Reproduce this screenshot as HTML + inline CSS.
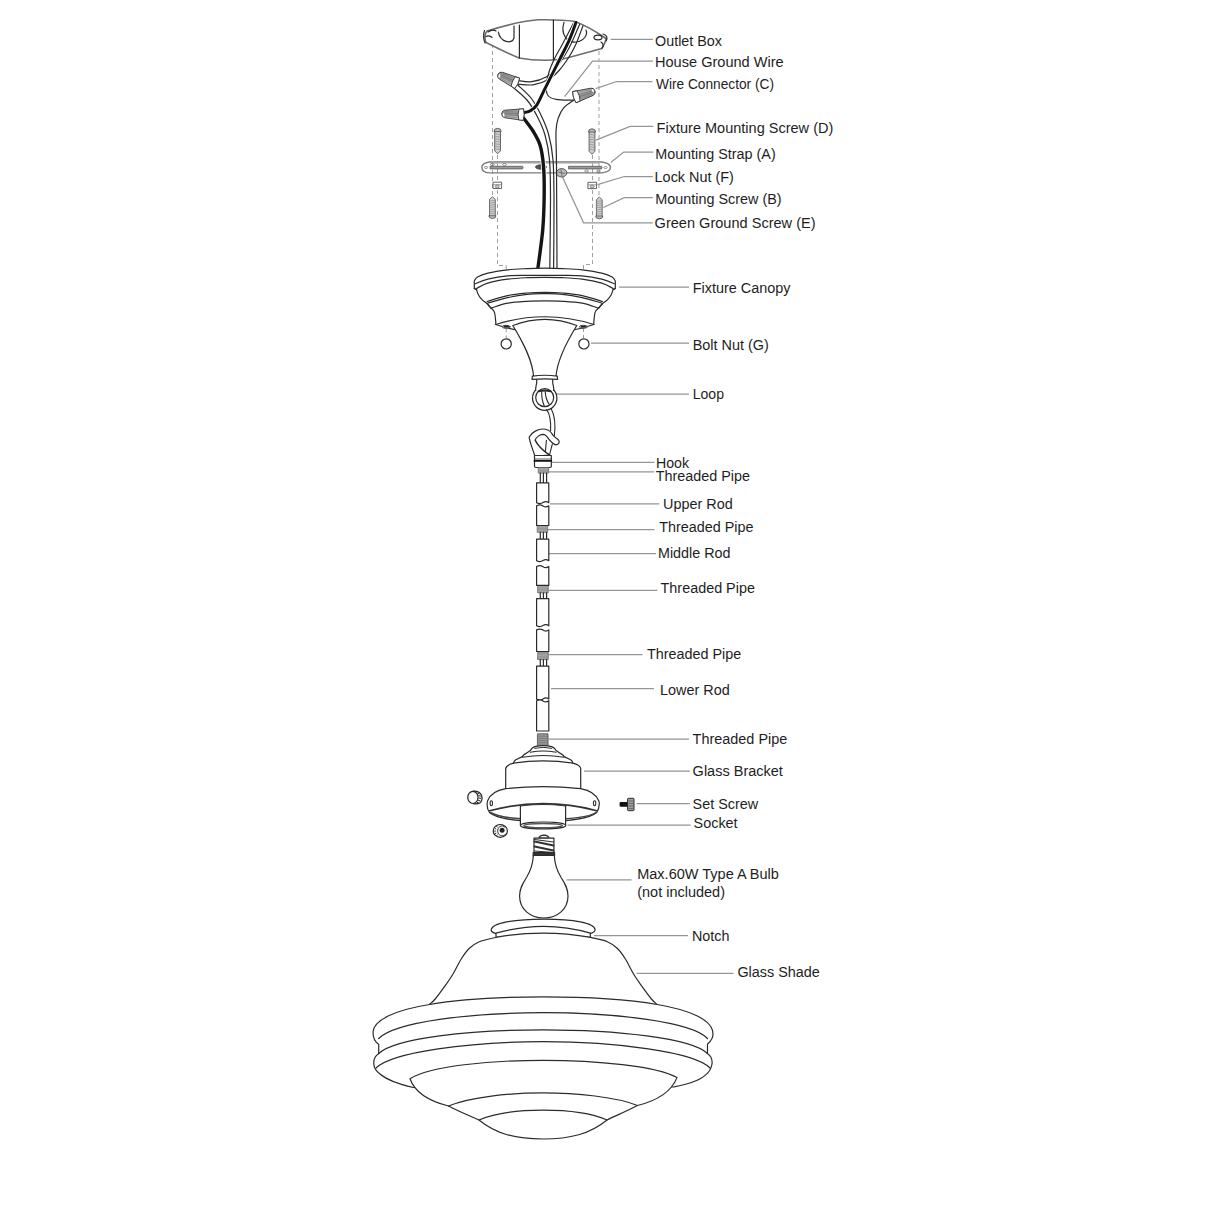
<!DOCTYPE html>
<html><head><meta charset="utf-8">
<style>
html,body{margin:0;padding:0;background:#fff;}
svg{display:block;}
text{font-family:"Liberation Sans",sans-serif;font-size:15.5px;fill:#1e1e1e;}
.ld{stroke:#90969c;stroke-width:1.25;fill:none;}
.k{stroke:#2b2b2b;stroke-width:1.2;fill:none;stroke-linejoin:round;stroke-linecap:round;}
.kf{stroke:#2b2b2b;stroke-width:1.2;fill:#fff;stroke-linejoin:round;}
.ds{stroke:#a0a0a0;stroke-width:1;fill:none;stroke-dasharray:4 3;}
</style></head>
<body>
<svg width="1214" height="1214" viewBox="0 0 1214 1214">
<rect width="1214" height="1214" fill="#fff"/>
<!-- LEADER LINES -->
<g class="ld">
<path d="M610.7 39.4H653"/>
<path d="M564.6 96.7L592.5 61.2H653"/>
<path d="M595.7 88.7L616.6 81.5H652.4"/>
<path d="M596 140.2L630.1 126.4H653.3"/>
<path d="M610.8 162.5L623.7 152.1H653.3"/>
<path d="M597.5 184.7L624.2 176.5H652.8"/>
<path d="M603.4 207.5L624.2 197.6H652.8"/>
<path d="M561.9 175.8L583.6 222.8H652.8"/>
<path d="M619 287.1H689"/>
<path d="M591 343.1H689"/>
<path d="M556 394.2H689"/>
<path d="M552 462.4H654.4"/>
<path d="M549 471.9H654"/>
<path d="M550 503.9H659.3"/>
<path d="M548 529.6H654.4"/>
<path d="M549 553.5H656"/>
<path d="M549 590.3H657.3"/>
<path d="M548 654.5H642.5"/>
<path d="M551 688.6H654"/>
<path d="M549 739H689"/>
<path d="M584 771.1H689.8"/>
<path d="M636.6 803.5H689.8"/>
<path d="M567.5 825H690.6"/>
<path d="M566.6 879.8H631.6"/>
<path d="M594 935.7H688"/>
<path d="M636.6 973.3H733.5"/>
</g>
<!-- LABELS -->
<g>
<text x="655" y="46.4" textLength="67" lengthAdjust="spacingAndGlyphs">Outlet Box</text>
<text x="655" y="66.6" textLength="128.7" lengthAdjust="spacingAndGlyphs">House Ground Wire</text>
<text x="656" y="88.7" textLength="118" lengthAdjust="spacingAndGlyphs">Wire Connector (C)</text>
<text x="656.6" y="133.1" textLength="176.7" lengthAdjust="spacingAndGlyphs">Fixture Mounting Screw (D)</text>
<text x="655.2" y="159.4" textLength="120.5" lengthAdjust="spacingAndGlyphs">Mounting Strap (A)</text>
<text x="654.6" y="182.1" textLength="79.3" lengthAdjust="spacingAndGlyphs">Lock Nut (F)</text>
<text x="655.2" y="204.3" textLength="126.4" lengthAdjust="spacingAndGlyphs">Mounting Screw (B)</text>
<text x="654.6" y="227.8" textLength="161" lengthAdjust="spacingAndGlyphs">Green Ground Screw (E)</text>
<text x="692.7" y="293.1" textLength="97.8" lengthAdjust="spacingAndGlyphs">Fixture Canopy</text>
<text x="692.7" y="349.9" textLength="76" lengthAdjust="spacingAndGlyphs">Bolt Nut (G)</text>
<text x="692.7" y="399.1" textLength="31.3" lengthAdjust="spacingAndGlyphs">Loop</text>
<text x="656" y="467.8" textLength="33" lengthAdjust="spacingAndGlyphs">Hook</text>
<text x="655.7" y="481" textLength="94.2" lengthAdjust="spacingAndGlyphs">Threaded Pipe</text>
<text x="663" y="509.3" textLength="69.7" lengthAdjust="spacingAndGlyphs">Upper Rod</text>
<text x="659.3" y="531.9" textLength="94.2" lengthAdjust="spacingAndGlyphs">Threaded Pipe</text>
<text x="658" y="557.6" textLength="72.5" lengthAdjust="spacingAndGlyphs">Middle Rod</text>
<text x="660.6" y="592.7" textLength="94.3" lengthAdjust="spacingAndGlyphs">Threaded Pipe</text>
<text x="647" y="659" textLength="94.3" lengthAdjust="spacingAndGlyphs">Threaded Pipe</text>
<text x="660.1" y="695.2" textLength="69.7" lengthAdjust="spacingAndGlyphs">Lower Rod</text>
<text x="692.6" y="744.4" textLength="94.7" lengthAdjust="spacingAndGlyphs">Threaded Pipe</text>
<text x="692.6" y="776" textLength="90.3" lengthAdjust="spacingAndGlyphs">Glass Bracket</text>
<text x="692.6" y="808.6" textLength="65.6" lengthAdjust="spacingAndGlyphs">Set Screw</text>
<text x="693.6" y="828.2" textLength="44" lengthAdjust="spacingAndGlyphs">Socket</text>
<text x="637.2" y="879.2" textLength="141.7" lengthAdjust="spacingAndGlyphs">Max.60W Type A Bulb</text>
<text x="637.2" y="896.6" textLength="87.8" lengthAdjust="spacingAndGlyphs">(not included)</text>
<text x="692" y="941" textLength="37.5" lengthAdjust="spacingAndGlyphs">Notch</text>
<text x="737.4" y="976.6" textLength="82.5" lengthAdjust="spacingAndGlyphs">Glass Shade</text>
</g>
<!-- DRAWING -->
<g id="draw">
<!-- dashed guide lines -->
<g class="ds">
<path d="M492.5 44V196"/>
<path d="M599 44V197"/>
<path d="M497.5 155V265.5H506.2V338"/>
<path d="M592.5 155V264.5H583.5V338"/>
</g>
<!-- OUTLET BOX -->
<g>
<path d="M487 31C500 27 522 21 538 19.8C550 19.6 565 20 574 21.3C585 25 598 33 606 38.5C606 42 603 46 602 48.5C585 53 572 57 560 59.5C545 61 530 60 519 58C505 52 493 46 486 42.5C484 38 485 33 487 31Z" fill="#fff" stroke="#6e6e6e" stroke-width="1.6"/>
<path d="M519.4 25V58M553.4 20V59.5" class="k" stroke="#6a6a6a"/>
<path d="M498.4 32.2C500 42 512 45 514 38V26" class="k" stroke="#555"/>
<path d="M564 22.4C560 35 568 43 576 42C584 41 588 35 586 30" class="k" stroke="#555"/>
<path d="M484.5 30.5C483 34 483.5 40 485 43M488 32C491 30 494 29.5 496 31M486 36.5C488 35.5 491 36 492 37.5" class="k" stroke="#666" stroke-width="1"/>
<ellipse cx="598" cy="37.5" rx="4" ry="2.3" class="k" stroke="#666" stroke-width="1"/>
<path d="M603 34C607 35 608 38 606 41M601 42C603 43 604 46 602 48" class="k" stroke="#666" stroke-width="1"/>
</g>
<!-- CONNECTORS -->
<defs>
<linearGradient id="cg" x1="0" y1="0" x2="0" y2="1">
<stop offset="0" stop-color="#e0e0e0"/><stop offset="0.55" stop-color="#8c8c8c"/><stop offset="1" stop-color="#c4c4c4"/>
</linearGradient>
<g id="nut">
<path d="M0 -6L19 -3.9Q22.3 -3.4 22.3 0Q22.3 3.4 19 3.9L0 6Q-1.6 0 0 -6Z" fill="url(#cg)" stroke="#333" stroke-width="0.9"/>
<path d="M6 -3.6L19 -2.4M6 -1.2L20 -0.8M6 1.2L20 0.8M6 3.6L19 2.4" stroke="#666" stroke-width="0.55"/>
<path d="M0 -6L4.6 -5.5Q6.2 0 4.6 5.5L0 6Q-1.8 0 0 -6Z" fill="#fff" stroke="#333" stroke-width="0.9"/>
<ellipse cx="20.3" cy="-0.8" rx="0.9" ry="1.8" fill="#fff"/>
</g>
<g id="screwD">
<path d="M-2.9 3V22.5L0 25.5L2.9 22.5V3" fill="#d0d0d0" stroke="#555" stroke-width="0.9"/>
<path d="M-2.9 5.5L2.9 6.3M-2.9 8L2.9 8.8M-2.9 10.5L2.9 11.3M-2.9 13L2.9 13.8M-2.9 15.5L2.9 16.3M-2.9 18L2.9 18.8M-2.9 20.5L2.9 21.3" stroke="#888" stroke-width="0.7"/>
<path d="M-3.6 3.3Q-3.8 0.2 0 0Q3.8 0.2 3.6 3.3Z" fill="#bbb" stroke="#555" stroke-width="0.9"/>
</g>
<g id="nutF">
<path d="M-4.3 0H4.3V6.3H-4.3Z" fill="#fff" stroke="#555" stroke-width="0.9"/>
<path d="M-4.3 2.5H4.3" stroke="#777" stroke-width="0.7"/>
<ellipse cx="0" cy="4.3" rx="2" ry="1.5" fill="#ccc" stroke="#555" stroke-width="0.6"/>
</g>
</defs>
<!-- SCREWS D -->
<use href="#screwD" transform="translate(497.6 128.3)"/>
<use href="#screwD" transform="translate(592 128.8)"/>
<!-- SCREWS B (head bottom) -->
<use href="#screwD" transform="translate(492.4 218.5) scale(1 -0.85)"/>
<use href="#screwD" transform="translate(599.3 218.8) scale(1 -0.85)"/>
<!-- LOCK NUTS -->
<use href="#nutF" transform="translate(497.3 182.2)"/>
<use href="#nutF" transform="translate(592.2 182.3)"/>
<!-- STRAP -->
<g>
<path d="M489 162H602C607 162.8 610.5 165 610.5 167.5C610.5 170 607 172.3 602 172.9H489C485 172.5 482 170.5 481.8 167.5C481.8 165 485 162.8 489 162Z" fill="none" stroke="#7a7a7a" stroke-width="1.4"/><path d="M490 163.2H600" stroke="#bbb" stroke-width="1"/>
<path d="M490 166.3H522.5Q523.8 167.6 522.5 168.9H490ZM568.5 166.3H601.5Q602.8 167.6 601.5 168.9H568.5Z" fill="#999" stroke="#555" stroke-width="0.8"/>
<ellipse cx="486" cy="167.5" rx="1.6" ry="1" fill="none" stroke="#666" stroke-width="0.7"/>
<ellipse cx="605.5" cy="167.5" rx="1.6" ry="1" fill="none" stroke="#666" stroke-width="0.7"/>
<ellipse cx="492.4" cy="164.5" rx="1.8" ry="1.1" fill="none" stroke="#666" stroke-width="0.7"/>
<ellipse cx="504.5" cy="164.5" rx="1.8" ry="1.1" fill="none" stroke="#666" stroke-width="0.7"/>
<ellipse cx="586.6" cy="171" rx="1.8" ry="1.1" fill="none" stroke="#666" stroke-width="0.7"/>
<ellipse cx="598.5" cy="171" rx="1.8" ry="1.1" fill="none" stroke="#666" stroke-width="0.7"/>
<ellipse cx="541" cy="167" rx="5.5" ry="2.2" fill="#555" stroke="#333" stroke-width="0.8"/>
<ellipse cx="561.6" cy="172.8" rx="5.2" ry="4.2" fill="#bbb" stroke="#444" stroke-width="0.9"/>
<path d="M558 172L565 173.5M561 169.5L562 176" stroke="#444" stroke-width="0.6"/>
</g>
<!-- WIRES -->
<g>
<path d="M573.5 23.0C571.6 26.7 565.0 39.3 562.0 45.0C559.0 50.7 557.5 52.5 555.3 57.0C553.1 61.5 550.5 67.2 549.0 72.0C547.5 76.8 546.4 82.1 546.2 86.0C546.0 89.9 546.4 93.3 548.0 95.5C549.6 97.7 551.7 98.5 556.0 99.3C560.3 100.1 570.8 100.0 573.8 100.2" class="k" stroke-width="0.9"/>
<path d="M517.0 80.4C519.5 80.6 526.9 82.3 531.8 81.7C536.7 81.1 542.6 79.0 546.6 76.7C550.6 74.4 552.9 71.6 556.0 68.0C559.1 64.4 562.3 59.3 565.0 55.0C567.7 50.7 569.6 47.1 572.0 42.0C574.4 36.9 578.3 27.3 579.6 24.4" class="k" stroke-width="1"/>
<path d="M517.0 84.1C519.7 84.2 527.7 85.6 533.0 84.8C538.3 84.0 544.6 81.7 549.0 79.2C553.4 76.7 556.2 73.7 559.5 70.0C562.8 66.3 566.2 61.3 569.0 57.0C571.8 52.7 573.7 49.2 576.0 44.0C578.3 38.8 581.8 28.8 583.0 25.8" class="k" stroke-width="1"/>
<path d="M513.8 88.0C516.0 90.0 523.1 95.3 527.0 100.0C530.9 104.7 534.0 110.2 537.0 116.0C540.0 121.8 542.9 127.7 545.0 135.0C547.1 142.3 548.6 149.2 549.5 160.0C550.4 170.8 550.5 182.0 550.5 200.0C550.5 218.0 549.9 256.7 549.8 268.0" class="k" stroke-width="1"/>
<path d="M517.8 85.0C520.0 87.2 527.2 93.2 531.0 98.0C534.8 102.8 537.6 108.0 540.5 114.0C543.4 120.0 546.4 126.3 548.5 134.0C550.6 141.7 552.1 149.0 553.0 160.0C553.9 171.0 553.9 182.0 554.0 200.0C554.1 218.0 553.7 256.7 553.6 268.0" class="k" stroke-width="1"/>
<path d="M573.8 100.2C572.1 101.4 566.4 104.7 563.9 107.6C561.4 110.5 559.8 113.6 558.5 117.5C557.2 121.4 556.3 122.9 556.0 131.0C555.7 139.1 556.3 143.2 556.5 166.0C556.7 188.8 556.9 251.0 557.0 268.0" class="k" stroke-width="1"/>
<path d="M576.0 22.5C574.8 25.6 572.1 33.7 568.9 40.9C565.6 48.1 560.6 57.4 556.5 65.6C552.4 73.8 547.4 83.7 544.1 90.3C540.8 96.9 539.0 101.7 536.7 105.1C534.4 108.5 532.6 109.5 530.5 110.7C528.4 112.0 525.1 112.3 524.0 112.6" stroke="#fff" fill="none" stroke-width="4.6"/>
<path d="M576.0 22.5C574.8 25.6 572.1 33.7 568.9 40.9C565.6 48.1 560.6 57.4 556.5 65.6C552.4 73.8 547.4 83.7 544.1 90.3C540.8 96.9 539.0 101.7 536.7 105.1C534.4 108.5 532.6 109.5 530.5 110.7C528.4 112.0 525.1 112.3 524.0 112.6" stroke="#141414" fill="none" stroke-linecap="round" stroke-width="3"/>
<path d="M523.1 117.5C524.8 119.8 530.2 126.4 533.0 131.0C535.8 135.6 538.2 139.2 540.0 145.0C541.8 150.8 542.8 157.8 543.5 166.0C544.2 174.2 544.3 183.5 544.2 194.0C544.1 204.5 543.8 216.6 542.8 229.0C541.8 241.4 538.7 261.7 537.9 268.2" stroke="#fff" fill="none" stroke-width="5.0"/>
<path d="M523.1 117.5C524.8 119.8 530.2 126.4 533.0 131.0C535.8 135.6 538.2 139.2 540.0 145.0C541.8 150.8 542.8 157.8 543.5 166.0C544.2 174.2 544.3 183.5 544.2 194.0C544.1 204.5 543.8 216.6 542.8 229.0C541.8 241.4 538.7 261.7 537.9 268.2" stroke="#141414" fill="none" stroke-linecap="round" stroke-width="3.4"/>
</g>
<use href="#nut" transform="translate(517.2 83.3) rotate(205) scale(0.95)"/>
<use href="#nut" transform="translate(523.3 114.6) rotate(182) scale(0.97)"/>
<use href="#nut" transform="translate(574.3 97.2) rotate(-17) scale(0.97)"/>

<!-- CANOPY -->
<g class="k" stroke-width="1.3">
<path d="M474.3 281.0C474.8 280.3 475.2 278.3 477.5 277.0C479.8 275.7 482.8 274.4 487.8 273.2C492.8 272.0 501.0 270.7 507.5 269.9C514.0 269.1 520.8 268.9 527.0 268.6C533.2 268.3 538.9 268.2 544.8 268.2C550.7 268.2 556.4 268.3 562.6 268.6C568.8 268.9 575.6 269.1 582.1 269.9C588.6 270.7 596.8 272.0 601.8 273.2C606.8 274.4 609.8 275.7 612.1 277.0C614.3 278.3 614.8 280.3 615.3 281.0L615.3 288.4L613.0 289.7C612.7 290.6 612.1 293.2 611.1 295.0C610.1 296.8 608.5 298.8 607.1 300.2C605.7 301.6 603.3 302.9 602.5 303.5L598.6 308.1C598.0 308.8 596.0 309.9 595.2 312.1C594.4 314.3 594.1 319.2 593.9 321.3C593.7 323.4 593.9 324.0 593.9 324.5Q544.8 341 495.7 324.5C495.7 324.0 495.9 323.4 495.7 321.3C495.5 319.2 495.2 314.3 494.4 312.1C493.6 309.9 491.6 308.8 491.0 308.1L487.1 303.5C486.3 302.9 483.9 301.6 482.5 300.2C481.1 298.8 479.5 296.8 478.5 295.0C477.5 293.2 476.9 290.6 476.6 289.7L474.3 288.4L474.3 281Z" fill="#fff"/>
<path d="M475.2 283.7C477.3 282.9 482.4 280.5 487.8 279.2C493.2 277.9 501.0 276.5 507.5 275.9C514.0 275.3 520.8 275.5 527.0 275.4C533.2 275.3 538.9 275.3 544.8 275.3C550.7 275.3 556.4 275.3 562.6 275.4C568.8 275.5 575.6 275.3 582.1 275.9C588.6 276.5 596.4 277.9 601.8 279.2C607.2 280.5 612.3 282.9 614.4 283.7"/>
<path d="M476.6 288.4C478.5 287.5 482.7 284.7 487.8 283.2C492.9 281.7 501.0 280.1 507.5 279.2C514.0 278.3 520.8 278.0 527.0 277.7C533.2 277.4 538.9 277.4 544.8 277.4C550.7 277.4 556.4 277.4 562.6 277.7C568.8 278.0 575.6 278.3 582.1 279.2C588.6 280.1 596.6 281.7 601.8 283.2C606.9 284.7 611.1 287.5 613.0 288.4"/>
<path d="M487.1 301.5C490.5 300.5 500.9 297.0 507.5 295.6C514.1 294.2 520.8 293.6 527.0 293.0C533.2 292.4 538.9 292.3 544.8 292.3C550.7 292.3 556.4 292.4 562.6 293.0C568.8 293.6 575.4 294.2 582.1 295.6C588.7 297.0 599.1 300.5 602.5 301.5"/>
<path d="M488.0 303.0C491.2 302.1 501.0 299.1 507.5 297.6C514.0 296.2 520.8 295.0 527.0 294.3C533.2 293.6 538.9 293.7 544.8 293.7C550.7 293.7 556.4 293.6 562.6 294.3C568.8 295.0 575.6 296.2 582.1 297.6C588.6 299.1 598.3 302.1 601.6 303.0"/>
<path d="M491.0 308.1C493.8 307.3 501.5 304.3 507.5 303.2C513.5 302.1 520.8 301.7 527.0 301.3C533.2 300.9 538.9 300.9 544.8 300.9C550.7 300.9 556.4 300.9 562.6 301.3C568.8 301.7 576.1 302.1 582.1 303.2C588.1 304.3 595.8 307.3 598.6 308.1"/>
<path d="M474.3 288.4L476.6 289.7M615.3 288.4L613.0 289.7M487.1 303.5L491 308.1M602.5 303.5L598.6 308.1"/>
<path d="M495.7 324.5Q544.8 309 593.9 324.5"/>
<ellipse cx="506.2" cy="326.8" rx="4" ry="1.5" fill="#fff" stroke-width="0.9"/>
<ellipse cx="506.2" cy="326.8" rx="3" ry="1" fill="#222" stroke="none"/>
<ellipse cx="583.4" cy="326.8" rx="4" ry="1.5" fill="#fff" stroke-width="0.9"/>
<ellipse cx="583.4" cy="326.8" rx="3" ry="1" fill="#222" stroke="none"/>
<circle cx="506.2" cy="343.9" r="5.1"/>
<circle cx="583.9" cy="343.9" r="5.1"/>
<path d="M512.8 325.5Q544.8 313.1 576.8 325.5C566 343 557 360 556 376.8H533.6C532.5 360 523.5 343 512.8 325.5Z" fill="#fff"/>
</g>
<!-- LOOP -->
<g class="k" stroke-width="1.3">
<circle cx="544.7" cy="398.1" r="12.2" fill="#fff"/>
<path d="M536.7 379.3V382C536.7 385 535.2 387.5 535.7 390.3H553.7C554.2 387.5 552.7 385 552.7 382V379.3Z" fill="#fff" stroke="none"/>
<path d="M536.7 379.3V382C536.7 385 535.2 387.5 535.7 390.3M552.7 379.3V382C552.7 385 554.2 387.5 553.7 390.3"/>
<path d="M532.3 376.2Q544.8 374.3 557.3 376.2L557.6 379.4Q544.8 378.4 532.1 379.4Z" fill="#fff"/>
<circle cx="544.7" cy="397.6" r="9"/>
<path d="M538.7 391.3Q544.7 389.6 550.6 391.3" stroke-width="1.9"/>
<path d="M541.7 391.6C541.5 397 542.5 402 544.2 405.8M545.2 391.6C545.5 397 547 401 549.1 404.2" stroke-width="1.1"/>
<path d="M546.6 409.6C550 414 551 422 550.6 431M551.1 408.6C554 414 556 423 554.3 436" stroke-width="1.1"/>
</g>
<!-- HOOK -->
<g class="k" stroke-width="1.3">
<path d="M534.8 456C532 447 529 440 529.2 437C532 432 538 429 543 429C547 429 550 431 551.5 433C553 436 556 438 558.5 440C560 442 559 444.5 556 444.8C554 445 550.5 441 549 439.5C547 436 545 434.3 543 434.3C540 434.5 536 437 535.2 440.2C538 446 542 450 549.6 455Z" fill="#fff"/>
<path d="M535.2 440.2C538 446 542 450 549.6 455M546.4 440.2L545.4 451.4M552.3 444.1L549.6 454.7" stroke-width="1.1"/>
<path d="M534.5 455.5H551.3V466.5Q551 467.5 549.5 467.5H536Q534.5 467.5 534.5 466Z" fill="#fff"/>
<path d="M534.5 460.9H551.3" stroke="#111" stroke-width="1.8"/>
<path d="M534.5 459H551.3" stroke-width="0.8"/>
</g>
<!-- RODS -->
<g class="k" stroke-width="1" stroke="#5e5e5e">
<!-- threaded pipes -->
<rect x="538.6" y="467.5" width="10.0" height="5.6" fill="#b4b4b4" stroke="#666" stroke-width="0.8"/><path d="M538.6 468.9H548.6M538.6 470.3H548.6M538.6 471.7H548.6" stroke="#808080" stroke-width="0.6"/>
<rect x="537.6" y="525.5" width="10.0" height="6.8" fill="#b4b4b4" stroke="#666" stroke-width="0.8"/><path d="M537.6 526.9H547.6M537.6 528.3H547.6M537.6 529.7H547.6M537.6 531.1H547.6" stroke="#808080" stroke-width="0.6"/>
<rect x="538.0" y="585.4" width="10.2" height="7.4" fill="#b4b4b4" stroke="#666" stroke-width="0.8"/><path d="M538.0 586.8H548.2M538.0 588.2H548.2M538.0 589.6H548.2M538.0 591.0H548.2M538.0 592.4H548.2" stroke="#808080" stroke-width="0.6"/>
<rect x="538.0" y="652.1" width="10.2" height="7.5" fill="#b4b4b4" stroke="#666" stroke-width="0.8"/><path d="M538.0 653.5H548.2M538.0 654.9H548.2M538.0 656.3H548.2M538.0 657.7H548.2M538.0 659.1H548.2" stroke="#808080" stroke-width="0.6"/>
<!-- wires between -->
<path d="M540.3 473V482.9M543.4 473V482.9M546.6 473V482.9"/>
<path d="M540.3 532.3V539.1M543.4 532.3V539.1M546.6 532.3V539.1"/>
<path d="M540.3 592.8V598.6M543.4 592.8V598.6M546.6 592.8V598.6"/>
<path d="M540.3 659.6V666.1M543.4 659.6V666.1M546.6 659.6V666.1"/>
<!-- rod segments -->
<path d="M536.6 482.9H548.8V502.7Q546 500.5 543 502.5Q540 504.5 536.6 502.7Z" fill="#fff"/>
<path d="M536.6 505.8Q540 504 543 506Q546 508 548.8 505.8V525.5H536.6Z" fill="#fff"/>
<path d="M536.6 539.1H548.8V560.7Q546 558.5 543 560.5Q540 562.5 536.6 560.7Z" fill="#fff"/>
<path d="M536.6 566.5Q540 564.7 543 566.7Q546 568.7 548.8 566.5V585.4H536.6Z" fill="#fff"/>
<path d="M536.6 598.6H548.8V625.8Q546 623.6 543 625.6Q540 627.6 536.6 625.8Z" fill="#fff"/>
<path d="M536.6 629.9Q540 628.1 543 630.1Q546 632.1 548.8 629.9V651.5H536.6Z" fill="#fff"/>
<path d="M536.6 666.1H548.8V699.1Q546 696.9 543 698.9Q540 700.9 536.6 699.1Z" fill="#fff"/>
<path d="M536.6 700.7Q540 698.9 543 700.9Q546 702.9 548.8 700.7V731H536.6Z" fill="#fff"/>
</g>

<!-- GLASS BRACKET -->
<g class="k" stroke-width="1.3">
<rect x="537.8" y="733.8" width="10.2" height="12.6" fill="#9a9a9a" stroke="#555" stroke-width="0.9"/>
<path d="M537.8 736.2H548M537.8 738.4H548M537.8 740.6H548M537.8 742.8H548M537.8 745H548" stroke="#666" stroke-width="0.6"/>
<path d="M505.7 789V768.5Q506.5 765 513.5 763.2Q514 761 515.8 759.8L522.3 756.6Q523.5 754.5 526 753.4L530.3 750.6Q531.5 747.8 534.6 746.6Q543.2 744.6 551.8 746.6Q555 747.8 556.1 750.6L560.4 753.4Q563 754.5 564.1 756.6L570.6 759.8Q572.4 761 572.9 763.2Q580 765 580.7 768.5V789Z" fill="#fff"/>
<path d="M534.6 748.3Q543.2 746.3 551.8 748.3" stroke-width="1"/>
<path d="M530.3 752.3Q543.2 749.8 556.1 752.3" stroke-width="1.1"/>
<path d="M522.3 757.2Q543.2 753.8 564.1 757.2" stroke-width="1.1"/>
<path d="M513.5 763.2Q543.2 758.5 572.9 763.2" stroke-width="1.2"/>
<path d="M505.7 788.7Q543.2 784.5 580.7 788.7C588 790 596 794 598.9 801C600 806 599 809 596.7 812.5C590 818 570 821.5 543.2 821.5C516 821.5 496 818 489.5 812.5C487 809 486.5 806 487.5 801C490 794 498 790 505.7 788.7Z" fill="#fff"/>
<path d="M489.6 810.7Q543.2 796.7 596.7 810.7" stroke-width="1.7" stroke="#333"/>
<path d="M490.5 812.5C497 816.5 515 819.3 543.2 819.3C571 819.3 590 816.5 596 812.5" stroke-width="1.5" stroke="#444"/>
<ellipse cx="491.3" cy="803.2" rx="1.2" ry="2.4" stroke-width="1.1"/>
<ellipse cx="594.6" cy="803.2" rx="1.2" ry="2.4" stroke-width="1.1"/>
<path d="M520.4 806V825.5H565.6V806Q543 803 520.4 806Z" fill="#fff"/>
<ellipse cx="543.1" cy="825.4" rx="22.6" ry="3.4" fill="#fff"/>
<ellipse cx="543.1" cy="825.6" rx="19.2" ry="2.2" stroke="#555" stroke-width="1.5"/>
</g>
<!-- SET SCREWS -->
<g fill="none" stroke="#222">
<path d="M473 791.2C477.5 791 480.5 792.5 481.6 795.5C482.4 798.5 481.8 801.5 479.8 803C478 804 475.5 804 473 803.6" fill="#fff" stroke-width="1.2"/>
<ellipse cx="472.9" cy="797.4" rx="5.1" ry="6.1" fill="#fff" stroke-width="1.2"/>
<path d="M477.5 793.2L479.3 794M478.5 795.6L480.8 796.2M478.6 798L481 798.4M478.2 800.4L480.4 801M477 802.3L478.8 803" stroke-width="1"/>
<ellipse cx="500.3" cy="830.9" rx="7.1" ry="6.4" fill="#fff" stroke-width="1.2"/>
<path d="M494.8 828.5L496.2 829M494.2 831L495.8 831.2M494.8 833.5L496.3 833.2M496.5 835.5L497.6 834.8M496.2 826L497.5 827" stroke-width="1"/>
<path d="M505.3 827.6C503.8 825.8 501.5 825.6 499.8 826.6C497.6 828 497 831.6 498.6 834C500 836 503.5 836.3 505.5 834.2" stroke-width="0.9"/>
<circle cx="502.1" cy="830.3" r="2.5" fill="#222" stroke="none"/>
<rect x="619.6" y="801.9" width="8.5" height="4.9" rx="1.2" fill="#111" stroke="none"/>
<rect x="627.6" y="798.3" width="6.4" height="12.4" rx="0.8" fill="#a0a0a0" stroke="#2a2a2a" stroke-width="1"/>
<path d="M628.4 801H633.2M628.4 803.5H633.2M628.4 806H633.2M628.4 808.5H633.2" stroke="#555" stroke-width="0.7"/>
</g>
<!-- BULB -->
<g class="k" stroke-width="1.3">
<path d="M539 838.1Q539.5 835.4 544 835.2Q548.5 835.4 548.9 838.1Z" fill="#fff"/>
<path d="M534 838.1H553.9V852.6H534Z" fill="#fff"/>
<path d="M534.5 841.5L553.5 845.5M534.5 846.5L553.5 850.5" stroke-width="2.2" stroke="#333"/><path d="M534.5 839.5L553.5 842M534.5 851L553.5 852.5" stroke-width="1"/>
<path d="M533.2 852.6H554.6V855.8H533.2Z" fill="#333"/>
<path d="M533.3 855.5C533 864 531 870 526.5 877.5C522 884.5 519.6 889 519.6 896C519.6 909 530 918 543.8 918C557.6 918 568 909 568 896C568 889 565.6 884.5 561.1 877.5C556.6 870 554.6 864 554.3 855.5Z" fill="#fff"/>
</g>
<!-- GLASS SHADE -->
<g class="k" stroke-width="1.45" stroke="#262626">
<!-- notch ring -->
<path d="M496 937.3V933.6C492 932.5 491 931 491.2 929.8C491.5 923 515 919.1 544.3 919.1C573 919.1 595 923 595.1 929.8C595.1 931 594 932.5 590.3 933.6V937.3Z" fill="#fff"/>
<path d="M496 933.2Q544.3 919.6 590.3 933.2"/>
<!-- dome -->
<path d="M495.8 937.4Q543.3 928.7 590.8 937.4C593.5 938.2 602.9 939.9 607.3 941.7C611.7 943.5 614.1 945.3 617.2 948.3C620.3 951.3 623.0 955.2 625.7 959.5C628.4 963.8 630.9 969.6 633.6 974.0C636.2 978.4 638.6 981.7 641.6 985.9C644.6 990.1 648.8 995.9 651.4 999.0C654.0 1002.1 656.1 1003.6 657.1 1004.5L429.5 1004.5C430.4 1003.6 432.6 1002.1 435.2 999.0C437.8 995.9 442.0 990.1 445.0 985.9C448.0 981.7 450.4 978.4 453.0 974.0C455.6 969.6 458.2 963.8 460.9 959.5C463.6 955.2 466.3 951.3 469.4 948.3C472.5 945.3 474.9 943.5 479.3 941.7C483.7 939.9 493.1 938.2 495.8 937.5Z" fill="#fff"/>
<!-- rim 1 -->
<path d="M429.5 1004.5C460 999 500 996.9 543 996.9C586 996.9 626 999 657.2 1004.5C690 1010 713 1020 713 1034C713 1039 710 1042 707.5 1044.2V1053.5C711 1056 712.5 1060 712 1064C711 1070 708 1073 706 1074.6C700 1080 690 1084 673.9 1086.8L413.2 1087.5C398 1084 387 1080 380 1074C376 1071 374 1068 373.8 1064C373.5 1060 375 1056 378.7 1053.5V1044.2C375 1042 373 1039 373 1032C374 1020 395 1010 429.5 1004.5Z" fill="#fff"/>
<path d="M378.7 1038.5C395 1022 470 1012.7 543 1012.7C616 1012.7 692 1022 707.5 1038.5"/>
<path d="M378.7 1053.5C395 1038 470 1029.8 543 1029.8C616 1029.8 692 1038 707.5 1053.5"/>
<path d="M376 1068C392 1052 470 1041.7 543 1041.7C616 1041.7 695 1052 710 1068"/>
<!-- bowls -->
<path d="M410 1078.7C430 1066 490 1060.3 543 1060.3C596 1060.3 657 1066 677 1077.6C672 1090 660 1100 637.4 1105.5C625 1112 615 1116 607 1120C590 1134 570 1139 543 1139C516 1139 496 1134 479 1120C470 1116 460 1112 448.5 1106C425 1100 414 1090 410 1078.7Z" fill="#fff"/>
<path d="M448.5 1106C470 1097 510 1092.9 543 1092.9C576 1092.9 617 1097 637.4 1105.5"/>
<path d="M479 1120C495 1113 520 1110.2 543 1110.2C566 1110.2 591 1113 607 1120"/>
</g>

</g>
</svg>
</body></html>
